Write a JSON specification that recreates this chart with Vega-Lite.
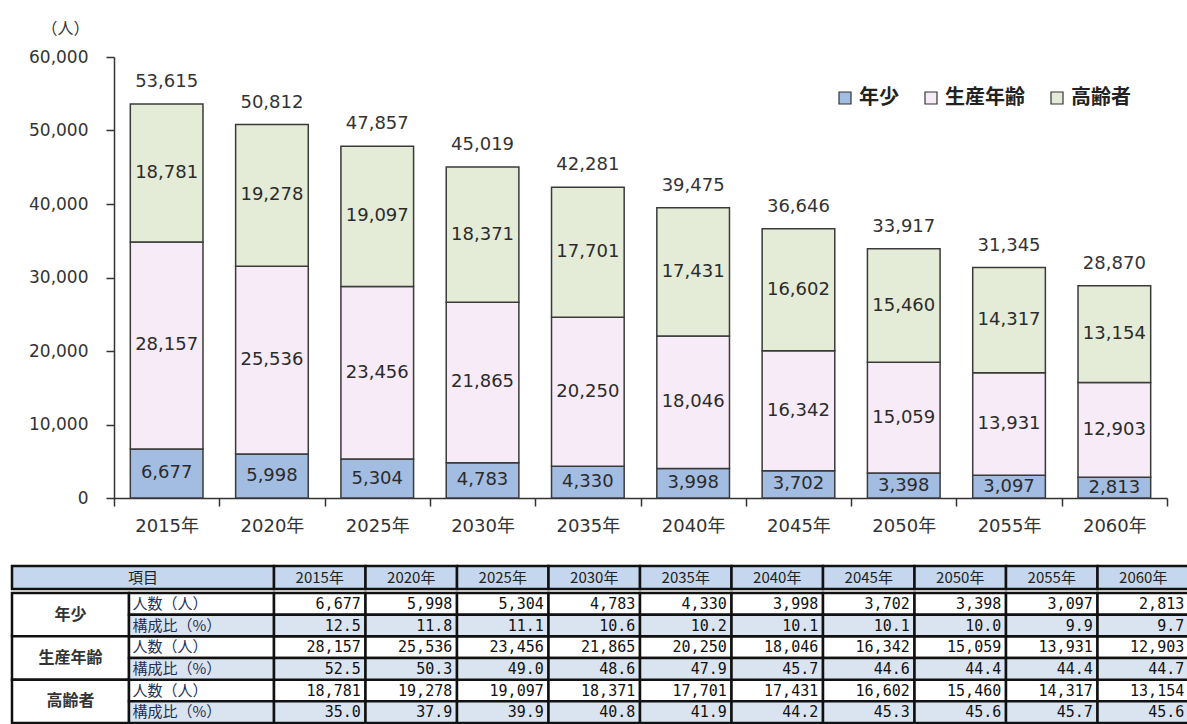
{
  "$schema": "https://vega.github.io/schema/vega-lite/v6.json",
  "padding": {"left": 10, "top": 20, "right": 0, "bottom": 0},
  "datasets": {
    "d": [
      {"year": "2015年", "group": "年少", "item": "人数（人）", "value": 6677},
      {"year": "2020年", "group": "年少", "item": "人数（人）", "value": 5998},
      {"year": "2025年", "group": "年少", "item": "人数（人）", "value": 5304},
      {"year": "2030年", "group": "年少", "item": "人数（人）", "value": 4783},
      {"year": "2035年", "group": "年少", "item": "人数（人）", "value": 4330},
      {"year": "2040年", "group": "年少", "item": "人数（人）", "value": 3998},
      {"year": "2045年", "group": "年少", "item": "人数（人）", "value": 3702},
      {"year": "2050年", "group": "年少", "item": "人数（人）", "value": 3398},
      {"year": "2055年", "group": "年少", "item": "人数（人）", "value": 3097},
      {"year": "2060年", "group": "年少", "item": "人数（人）", "value": 2813},
      {"year": "2015年", "group": "生産年齢", "item": "人数（人）", "value": 28157},
      {"year": "2020年", "group": "生産年齢", "item": "人数（人）", "value": 25536},
      {"year": "2025年", "group": "生産年齢", "item": "人数（人）", "value": 23456},
      {"year": "2030年", "group": "生産年齢", "item": "人数（人）", "value": 21865},
      {"year": "2035年", "group": "生産年齢", "item": "人数（人）", "value": 20250},
      {"year": "2040年", "group": "生産年齢", "item": "人数（人）", "value": 18046},
      {"year": "2045年", "group": "生産年齢", "item": "人数（人）", "value": 16342},
      {"year": "2050年", "group": "生産年齢", "item": "人数（人）", "value": 15059},
      {"year": "2055年", "group": "生産年齢", "item": "人数（人）", "value": 13931},
      {"year": "2060年", "group": "生産年齢", "item": "人数（人）", "value": 12903},
      {"year": "2015年", "group": "高齢者", "item": "人数（人）", "value": 18781},
      {"year": "2020年", "group": "高齢者", "item": "人数（人）", "value": 19278},
      {"year": "2025年", "group": "高齢者", "item": "人数（人）", "value": 19097},
      {"year": "2030年", "group": "高齢者", "item": "人数（人）", "value": 18371},
      {"year": "2035年", "group": "高齢者", "item": "人数（人）", "value": 17701},
      {"year": "2040年", "group": "高齢者", "item": "人数（人）", "value": 17431},
      {"year": "2045年", "group": "高齢者", "item": "人数（人）", "value": 16602},
      {"year": "2050年", "group": "高齢者", "item": "人数（人）", "value": 15460},
      {"year": "2055年", "group": "高齢者", "item": "人数（人）", "value": 14317},
      {"year": "2060年", "group": "高齢者", "item": "人数（人）", "value": 13154},
      {"year": "2015年", "group": "年少", "item": "構成比（%）", "value": 12.5},
      {"year": "2020年", "group": "年少", "item": "構成比（%）", "value": 11.8},
      {"year": "2025年", "group": "年少", "item": "構成比（%）", "value": 11.1},
      {"year": "2030年", "group": "年少", "item": "構成比（%）", "value": 10.6},
      {"year": "2035年", "group": "年少", "item": "構成比（%）", "value": 10.2},
      {"year": "2040年", "group": "年少", "item": "構成比（%）", "value": 10.1},
      {"year": "2045年", "group": "年少", "item": "構成比（%）", "value": 10.1},
      {"year": "2050年", "group": "年少", "item": "構成比（%）", "value": 10.0},
      {"year": "2055年", "group": "年少", "item": "構成比（%）", "value": 9.9},
      {"year": "2060年", "group": "年少", "item": "構成比（%）", "value": 9.7},
      {"year": "2015年", "group": "生産年齢", "item": "構成比（%）", "value": 52.5},
      {"year": "2020年", "group": "生産年齢", "item": "構成比（%）", "value": 50.3},
      {"year": "2025年", "group": "生産年齢", "item": "構成比（%）", "value": 49.0},
      {"year": "2030年", "group": "生産年齢", "item": "構成比（%）", "value": 48.6},
      {"year": "2035年", "group": "生産年齢", "item": "構成比（%）", "value": 47.9},
      {"year": "2040年", "group": "生産年齢", "item": "構成比（%）", "value": 45.7},
      {"year": "2045年", "group": "生産年齢", "item": "構成比（%）", "value": 44.6},
      {"year": "2050年", "group": "生産年齢", "item": "構成比（%）", "value": 44.4},
      {"year": "2055年", "group": "生産年齢", "item": "構成比（%）", "value": 44.4},
      {"year": "2060年", "group": "生産年齢", "item": "構成比（%）", "value": 44.7},
      {"year": "2015年", "group": "高齢者", "item": "構成比（%）", "value": 35.0},
      {"year": "2020年", "group": "高齢者", "item": "構成比（%）", "value": 37.9},
      {"year": "2025年", "group": "高齢者", "item": "構成比（%）", "value": 39.9},
      {"year": "2030年", "group": "高齢者", "item": "構成比（%）", "value": 40.8},
      {"year": "2035年", "group": "高齢者", "item": "構成比（%）", "value": 41.9},
      {"year": "2040年", "group": "高齢者", "item": "構成比（%）", "value": 44.2},
      {"year": "2045年", "group": "高齢者", "item": "構成比（%）", "value": 45.3},
      {"year": "2050年", "group": "高齢者", "item": "構成比（%）", "value": 45.6},
      {"year": "2055年", "group": "高齢者", "item": "構成比（%）", "value": 45.7},
      {"year": "2060年", "group": "高齢者", "item": "構成比（%）", "value": 45.6}
    ]
  },
  "spacing": 29,
  "vconcat": [
    {
      "spacing": 0,
      "hconcat": [
        {
          "width": 1,
          "height": 1,
          "data": {"values": [{"s": ""}]},
          "mark": {"type": "text"},
          "encoding": {"text": {"field": "s"}}
        },
        {
          "width": 1053,
          "height": 441,
          "data": {"name": "d"},
          "transform": [{"filter": {"field": "item", "equal": "人数（人）"}}],
          "encoding": {
            "x": {
              "field": "year", "type": "nominal",
              "scale": {"paddingInner": 0, "paddingOuter": 0},
              "axis": {
                "title": null, "labelAngle": 0, "labelFontSize": 18, "labelColor": "#333",
                "labelPadding": 11, "tickBand": "extent", "tickSize": 8,
                "domainColor": "#333", "domainWidth": 1.5, "tickColor": "#333", "tickWidth": 1.5
              }
            },
            "order": {"field": "group", "type": "ordinal", "sort": "ascending"}
          },
          "layer": [
            {
              "mark": {"type": "bar", "width": {"band": 0.69}, "stroke": "#3a3a3a", "strokeWidth": 1.5},
              "encoding": {
                "y": {
                  "field": "value", "type": "quantitative", "stack": "zero",
                  "scale": {"domain": [0, 60000]},
                  "axis": {
                    "title": "（人）", "titleAngle": 0, "titleX": -49, "titleY": -29,
                    "titleAlign": "center", "titleBaseline": "middle", "titleFontSize": 16,
                    "titleFontWeight": "normal", "titleColor": "#333",
                    "values": [0, 10000, 20000, 30000, 40000, 50000, 60000], "format": ",d",
                    "labelFontSize": 17, "labelColor": "#333", "labelPadding": 18,
                    "tickSize": 8, "grid": false, "minExtent": 101,
                    "domainColor": "#333", "domainWidth": 1.5, "tickColor": "#333", "tickWidth": 1.5
                  }
                },
                "color": {
                  "field": "group", "type": "nominal",
                  "scale": {"domain": ["年少", "生産年齢", "高齢者"], "range": ["#a3bde2", "#f7ebf7", "#e4ecd7"]},
                  "legend": {
                    "orient": "none", "legendX": 823, "legendY": 31, "direction": "horizontal",
                    "title": null, "symbolType": "square", "symbolSize": 144,
                    "symbolStrokeColor": "#333", "symbolStrokeWidth": 1.2,
                    "labelFontSize": 20, "labelFontWeight": "bold", "labelColor": "#222",
                    "labelFont": "Noto Sans CJK JP", "columnPadding": 22, "labelOffset": 4
                  }
                }
              }
            },
            {
              "mark": {"type": "text", "fontSize": 18, "color": "#2b2b2b", "baseline": "middle"},
              "encoding": {
                "y": {"field": "value", "type": "quantitative", "stack": "zero", "bandPosition": 0.5},
                "text": {"field": "value", "type": "quantitative", "format": ","}
              }
            },
            {
              "transform": [
                {"aggregate": [{"op": "sum", "field": "value", "as": "total"}], "groupby": ["year"]}
              ],
              "mark": {"type": "text", "fontSize": 18, "color": "#333", "baseline": "middle", "dy": -22},
              "encoding": {
                "y": {"field": "total", "type": "quantitative"},
                "text": {"field": "total", "type": "quantitative", "format": ","}
              }
            }
          ]
        }
      ]
    },
    {
      "spacing": 0,
      "vconcat": [
        {
          "spacing": 0,
          "bounds": "flush",
          "hconcat": [
            {
              "width": 262,
              "height": 23,
              "data": {"values": [{"h": "項目"}]},
              "encoding": {
                "x": {"field": "h", "type": "nominal", "axis": null, "scale": {"paddingInner": 0, "paddingOuter": 0}},
                "y": {"field": "h", "type": "nominal", "axis": null, "scale": {"paddingInner": 0, "paddingOuter": 0}}
              },
              "layer": [
                {"mark": {"type": "rect", "fill": "#c5d7ee", "stroke": "#111", "strokeWidth": 2.5}},
                {"mark": {"type": "text", "fontSize": 15, "font": "Noto Sans CJK JP", "color": "#222"}, "encoding": {"text": {"field": "h"}}}
              ]
            },
            {
              "width": 915,
              "height": 23,
              "data": {"name": "d"},
              "transform": [{"aggregate": [{"op": "count", "as": "n"}], "groupby": ["year"]}],
              "encoding": {
                "x": {"field": "year", "type": "nominal", "axis": null, "scale": {"paddingInner": 0, "paddingOuter": 0}},
                "y": {"datum": "h", "type": "nominal", "axis": null, "scale": {"paddingInner": 0, "paddingOuter": 0}}
              },
              "layer": [
                {"mark": {"type": "rect", "fill": "#c5d7ee", "stroke": "#111", "strokeWidth": 2.5}},
                {"mark": {"type": "text", "fontSize": 15, "font": "Noto Sans CJK JP", "color": "#222"}, "encoding": {"text": {"field": "year"}}}
              ]
            }
          ]
        },
        {
          "spacing": 0,
          "bounds": "flush",
          "hconcat": [
            {
              "width": 117,
              "height": 130,
              "data": {"name": "d"},
              "transform": [{"aggregate": [{"op": "count", "as": "n"}], "groupby": ["group"]}],
              "encoding": {
                "x": {"datum": "a", "type": "nominal", "axis": null, "scale": {"paddingInner": 0, "paddingOuter": 0}},
                "y": {"field": "group", "type": "nominal", "sort": ["年少", "生産年齢", "高齢者"], "axis": null, "scale": {"paddingInner": 0, "paddingOuter": 0}}
              },
              "layer": [
                {"mark": {"type": "rect", "fill": "#ffffff", "stroke": "#111", "strokeWidth": 2.5}},
                {"mark": {"type": "text", "fontSize": 16, "fontWeight": "bold", "font": "Noto Sans CJK JP", "color": "#333"}, "encoding": {"text": {"field": "group"}}}
              ]
            },
            {
              "width": 145,
              "height": 130,
              "data": {"name": "d"},
              "transform": [{"aggregate": [{"op": "count", "as": "n"}], "groupby": ["group", "item"]}],
              "encoding": {
                "x": {"datum": "b", "type": "nominal", "axis": null, "scale": {"paddingInner": 0, "paddingOuter": 0}},
                "y": {"field": "group", "type": "nominal", "sort": ["年少", "生産年齢", "高齢者"], "axis": null, "scale": {"paddingInner": 0, "paddingOuter": 0}},
                "yOffset": {"field": "item", "type": "nominal", "sort": ["人数（人）", "構成比（%）"], "scale": {"paddingInner": 0, "paddingOuter": 0}}
              },
              "layer": [
                {
                  "mark": {"type": "rect", "stroke": "#111", "strokeWidth": 2.5},
                  "encoding": {"fill": {"field": "item", "type": "nominal", "scale": {"domain": ["人数（人）", "構成比（%）"], "range": ["#ffffff", "#dae4f0"]}, "legend": null}}
                },
                {
                  "mark": {"type": "text", "fontSize": 15, "font": "Noto Sans CJK JP", "color": "#1f2f55", "align": "left", "dx": -69},
                  "encoding": {"text": {"field": "item"}}
                }
              ]
            },
            {
              "width": 915,
              "height": 130,
              "data": {"name": "d"},
              "encoding": {
                "x": {"field": "year", "type": "nominal", "axis": null, "scale": {"paddingInner": 0, "paddingOuter": 0}},
                "y": {"field": "group", "type": "nominal", "sort": ["年少", "生産年齢", "高齢者"], "axis": null, "scale": {"paddingInner": 0, "paddingOuter": 0}},
                "yOffset": {"field": "item", "type": "nominal", "sort": ["人数（人）", "構成比（%）"], "scale": {"paddingInner": 0, "paddingOuter": 0}}
              },
              "layer": [
                {
                  "mark": {"type": "rect", "stroke": "#111", "strokeWidth": 2.5},
                  "encoding": {"fill": {"field": "item", "type": "nominal", "scale": {"domain": ["人数（人）", "構成比（%）"], "range": ["#ffffff", "#dae4f0"]}, "legend": null}}
                },
                {
                  "transform": [{"filter": {"field": "item", "equal": "人数（人）"}}],
                  "mark": {"type": "text", "fontSize": 15, "font": "DejaVu Sans Mono", "color": "#111", "align": "right", "dx": 41},
                  "encoding": {"text": {"field": "value", "type": "quantitative", "format": ",d"}}
                },
                {
                  "transform": [{"filter": {"field": "item", "equal": "構成比（%）"}}],
                  "mark": {"type": "text", "fontSize": 15, "font": "DejaVu Sans Mono", "color": "#111", "align": "right", "dx": 41},
                  "encoding": {"text": {"field": "value", "type": "quantitative", "format": ".1f"}}
                }
              ]
            }
          ]
        }
      ]
    }
  ],
  "config": {
    "font": "DejaVu Sans, Noto Sans CJK JP",
    "view": {"stroke": null},
    "concat": {"spacing": 0}
  }
}
